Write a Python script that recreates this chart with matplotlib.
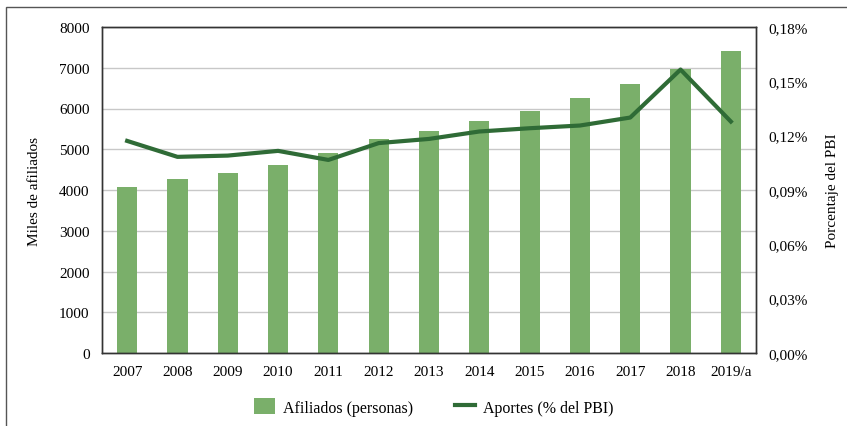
import matplotlib.pyplot as plt
from matplotlib.patches import Rectangle
from matplotlib.ticker import FuncFormatter

plt.rcParams['font.family'] = ['Liberation Serif', 'DejaVu Serif']

years = ['2007', '2008', '2009', '2010', '2011', '2012', '2013',
         '2014', '2015', '2016', '2017', '2018', '2019/a']
afiliados = [4070, 4275, 4420, 4620, 4910, 5255, 5455,
             5700, 5945, 6265, 6610, 6980, 7420]
aportes = [0.1171, 0.1083, 0.1090, 0.1116, 0.1066, 0.1159, 0.1182,
           0.1223, 0.1241, 0.1256, 0.1300, 0.1565, 0.1278]

bar_color = '#7aaf6a'
line_color = '#2f6b36'

fig = plt.figure(figsize=(8.47, 4.27), dpi=100)
ax1 = fig.add_axes([102 / 847, 73 / 427, 654 / 847, 326 / 427])
ax2 = ax1.twinx()

x = list(range(len(years)))
b = ax1.bar(x, afiliados, width=0.4, color=bar_color, zorder=2, label='Afiliados (personas)')
l, = ax2.plot(x, aportes, color=line_color, linewidth=3, zorder=3, label='Aportes (% del PBI)')

ax1.set_xlim(-0.5, len(years) - 0.5)
ax1.set_ylim(0, 8000)
ax1.set_yticks(range(0, 8001, 1000))
ax1.set_xticks(x)
ax1.set_xticklabels(years)
ax1.grid(axis='y', color='#c8c8c8', linewidth=1, zorder=0)
ax1.set_axisbelow(True)
ax1.set_ylabel('Miles de afiliados', fontsize=11, labelpad=13)

ax2.set_ylim(0, 0.18)
ax2.set_yticks([0, 0.03, 0.06, 0.09, 0.12, 0.15, 0.18])
ax2.yaxis.set_major_formatter(FuncFormatter(lambda v, p: f'{v:.2f}%'.replace('.', ',')))
ax2.set_ylabel('Porcentaje del PBI', fontsize=11, labelpad=13)

for ax in (ax1, ax2):
    ax.tick_params(length=0, labelsize=11, pad=9)
    for s in ax.spines.values():
        s.set_color('#333333')
        s.set_linewidth(1)

fig.legend([b, l], ['Afiliados (personas)', 'Aportes (% del PBI)'],
           loc='center', bbox_to_anchor=(434 / 847, 19 / 427), ncol=2, frameon=False,
           fontsize=11.5, columnspacing=2.6, handlelength=1.3, handleheight=1.1,
           handletextpad=0.5)

# outer frame as in the source document
fig.patches.append(Rectangle((6 / 847, -0.05), 1.2, 1.05 - 8 / 427,
                             transform=fig.transFigure, fill=False,
                             edgecolor='#555555', linewidth=1))

fig.savefig('out.png', dpi=100)
